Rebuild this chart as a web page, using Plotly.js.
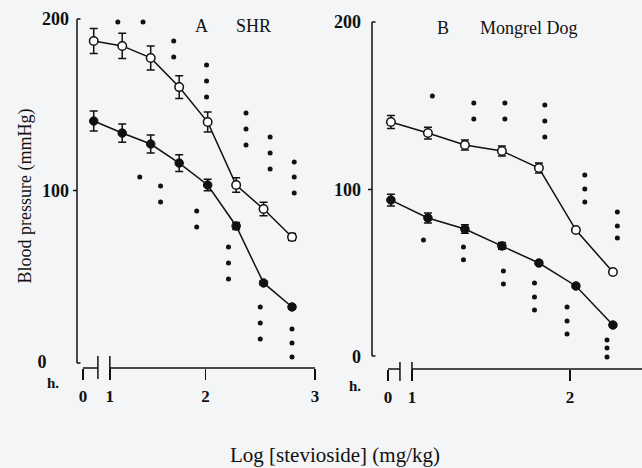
<!DOCTYPE html>
<html>
<head>
<meta charset="utf-8">
<script src="https://cdn.plot.ly/plotly-3.0.1.min.js"></script>
<style>html,body{margin:0;padding:0;background:#f4f5f6;}#chart{width:642px;height:468px;}</style>
</head>
<body>
<div id="chart"></div>
<script>
// ---- Panel A: SHR (log dose positions on the chart's log axis) ----
const shrLogDose = [0.98, 1.24, 1.50, 1.76, 2.02, 2.28, 2.53, 2.79];
const shrSystolic = [187.2, 184.3, 177.3, 160.3, 139.9, 103.2, 89.2, 72.9];
const shrSystolicSE = [7.3, 7.4, 7.0, 6.6, 5.8, 4.2, 3.9, 2.0];
const shrDiastolic = [140.5, 133.5, 127.1, 116.0, 103.2, 79.3, 46.1, 32.1];
const shrDiastolicSE = [5.8, 5.3, 5.3, 4.9, 3.4, 2.0, 1.2, 1.2];
const shrStarX = [1.20, 1.43, 1.71, 1.71, 2.01, 2.01, 2.01, 2.37, 2.37, 2.37, 2.59, 2.59, 2.59, 2.81, 2.81, 2.81,
                  1.40, 1.59, 1.59, 1.92, 1.92, 2.21, 2.21, 2.21, 2.50, 2.50, 2.50, 2.79, 2.79, 2.79];
const shrStarY = [198.3, 198.3, 187.2, 177.8, 173.2, 163.8, 154.5, 145.2, 135.9, 126.5, 131.2, 121.9, 112.5, 116.6, 107.9, 98.5,
                  107.9, 102.6, 93.3, 88.0, 78.7, 67.1, 57.7, 48.4, 32.1, 22.7, 13.4, 19.2, 11.1, 2.9];

// ---- Panel B: Mongrel dog ----
const dogLogDose = [0.79, 1.04, 1.29, 1.54, 1.79, 2.04, 2.29];
const dogSystolic = [140.3, 133.7, 126.6, 123.0, 112.8, 75.8, 50.7];
const dogSystolicSE = [3.9, 3.5, 3.0, 3.0, 3.0, 1.0, 0.5];
const dogDiastolic = [93.7, 83.0, 76.4, 66.3, 56.1, 42.4, 19.1];
const dogDiastolicSE = [3.5, 3.0, 2.5, 2.0, 1.2, 1.0, 1.0];
const dogStarX = [1.07, 1.35, 1.35, 1.56, 1.56, 1.83, 1.83, 1.83, 2.10, 2.10, 2.10, 2.32, 2.32, 2.32,
                  1.01, 1.28, 1.28, 1.55, 1.55, 1.76, 1.76, 1.76, 1.98, 1.98, 1.98, 2.25, 2.25, 2.25];
const dogStarY = [155.8, 151.6, 142.1, 151.6, 142.1, 150.4, 140.9, 131.3, 108.7, 100.3, 92.5, 86.6, 78.2, 71.0,
                  69.9, 65.7, 58.0, 51.3, 43.6, 44.2, 35.8, 28.1, 29.9, 21.5, 13.7, 10.1, 5.4, 0.0];

// ---- Tick labels ----
const yTickVals = [0, 100, 200];
const yTickTextA = ['0\u00a0\u00a0\u00a0\u00a0\u00a0', '100', '200'];
const yTickTextB = ['0', '100', '200'];
const xTickValsA = [0.882, 1.127, 2, 3];
const xTickTextA = ['0', '1', '2', '3'];
const xTickValsB = [0.770, 0.932, 2];
const xTickTextB = ['0', '1', '2'];

const SERIF = 'Liberation Serif, Times New Roman, serif';
const INK = '#111111';

function pair(xa, ya, dose, sys, sysSE, dia, diaSE, sx, sy) {
  const base = {xaxis: xa, yaxis: ya, type: 'scatter', mode: 'lines+markers', cliponaxis: false,
                line: {color: INK, width: 1.5}, showlegend: false};
  return [
    Object.assign({}, base, {name: 'Systolic', x: dose, y: sys,
      error_y: {type: 'data', array: sysSE, visible: true, color: INK, thickness: 1.5, width: 4},
      marker: {symbol: 'circle', size: 8.5, color: '#ffffff', line: {color: INK, width: 1.5}}}),
    Object.assign({}, base, {name: 'Diastolic', x: dose, y: dia,
      error_y: {type: 'data', array: diaSE, visible: true, color: INK, thickness: 1.5, width: 4},
      marker: {symbol: 'circle', size: 8.5, color: INK, line: {color: INK, width: 1}}}),
    {xaxis: xa, yaxis: ya, type: 'scatter', mode: 'markers', name: 'P < 0.05', x: sx, y: sy,
     cliponaxis: false, showlegend: false,
     marker: {symbol: 'circle', size: 5, color: INK}}
  ];
}

const data = [].concat(
  pair('x', 'y', shrLogDose, shrSystolic, shrSystolicSE, shrDiastolic, shrDiastolicSE, shrStarX, shrStarY),
  pair('x2', 'y2', dogLogDose, dogSystolic, dogSystolicSE, dogDiastolic, dogDiastolicSE, dogStarX, dogStarY)
);

const W = 642, H = 468;
const tickFont = {family: SERIF, size: 18, color: INK, weight: 'bold'};
const xTickFont = {family: SERIF, size: 17, color: INK, weight: 'bold'};

function seg(xr, yr, x0, y0, x1, y1) {
  return {type: 'line', xref: xr, yref: yr, x0: x0, y0: y0, x1: x1, y1: y1,
          line: {color: INK, width: 1.5}, layer: 'above'};
}
const fx = (p) => p / W;        // paper fraction from pixel column
const fy = (p) => 1 - p / H;    // paper fraction from pixel row

const aXLine = -3.5, bXLine = -7.16;
const shapes = [
  // Panel A y-axis bracket (paper frame)
  seg('paper', 'paper', fx(77), fy(363), fx(77), fy(19)),
  seg('paper', 'paper', fx(77), fy(19), fx(80.5), fy(19)),
  seg('paper', 'paper', fx(77), fy(363), fx(80.5), fy(363)),
  seg('paper', 'paper', fx(77), fy(190.5), fx(73), fy(190.5)),
  // Panel A broken x axis
  seg('x', 'y', 0.882, aXLine, 1.018, aXLine),
  seg('x', 'y', 1.127, aXLine, 3.0, aXLine),
  seg('x', 'y', 1.018, 3.5, 1.018, -9.9),
  seg('x', 'y', 1.127, 3.5, 1.127, -9.9),
  // Panel B y-axis bracket (paper frame)
  seg('paper', 'paper', fx(372), fy(356), fx(372), fy(22)),
  seg('paper', 'paper', fx(372), fy(22), fx(375.5), fy(22)),
  seg('paper', 'paper', fx(372), fy(356), fx(375.5), fy(356)),
  seg('paper', 'paper', fx(372), fy(189.5), fx(368), fy(189.5)),
  // Panel B broken x axis
  seg('x2', 'y2', 0.770, bXLine, 0.851, bXLine),
  seg('x2', 'y2', 0.932, bXLine, 2.49, bXLine),
  seg('x2', 'y2', 0.851, -3.0, 0.851, -14.3),
  seg('x2', 'y2', 0.932, -3.0, 0.932, -14.3)
];

function ann(text, pxx, py, size, bold) {
  return {text: text, xref: 'paper', yref: 'paper', x: pxx / W, y: 1 - py / H,
    xanchor: 'center', yanchor: 'middle', showarrow: false,
    font: {family: SERIF, size: size, color: INK, weight: bold ? 'bold' : 'normal'}};
}

const annotations = [
  ann('A', 201, 26, 18, false),
  ann('SHR', 253, 26, 18, false),
  ann('B', 443, 28, 18, false),
  ann('Mongrel Dog', 529, 28, 18, false),
  ann('h.', 53, 383, 15, true),
  ann('h.', 355, 386, 15, true),
  ann('Log [stevioside] (mg/kg)', 335, 455, 21, false)
];

const yDomain = [1 - 382 / H, 1 - 10 / H];

const layout = {
  width: W, height: H,
  margin: {l: 0, r: 0, t: 0, b: 0, pad: 0},
  paper_bgcolor: '#f4f5f6', plot_bgcolor: 'rgba(0,0,0,0)',
  showlegend: false,
  xaxis: {domain: [77 / W, 322 / W], range: [0.82727, 3.0636], anchor: 'free', position: 1 - 368 / H,
          showline: false, showgrid: false, zeroline: false,
          ticks: 'outside', ticklen: 11, tickwidth: 1.5, tickcolor: INK,
          tickmode: 'array', tickvals: xTickValsA, ticktext: xTickTextA, tickfont: xTickFont, ticklabelstandoff: 2},
  yaxis: {domain: yDomain, range: [-11.662, 205.248], anchor: 'x',
          showline: false, showgrid: false, zeroline: false, ticks: '',
          tickmode: 'array', tickvals: yTickVals, ticktext: yTickTextA, tickfont: tickFont, ticklabelstandoff: 7,
          title: {text: 'Blood pressure (mmHg)', font: {family: SERIF, size: 18, color: INK}, standoff: 1}},
  xaxis2: {domain: [372 / W, 1], range: [0.66216, 2.4865], anchor: 'free', position: 1 - 369 / H,
           showline: false, showgrid: false, zeroline: false,
           ticks: 'outside', ticklen: 11, tickwidth: 1.5, tickcolor: INK,
           tickmode: 'array', tickvals: xTickValsB, ticktext: xTickTextB, tickfont: xTickFont, ticklabelstandoff: 2},
  yaxis2: {domain: yDomain, range: [-14.925, 207.164], anchor: 'x2',
           showline: false, showgrid: false, zeroline: false, ticks: '',
           tickmode: 'array', tickvals: yTickVals, ticktext: yTickTextB, tickfont: tickFont, ticklabelstandoff: 10},
  shapes: shapes,
  annotations: annotations
};

Plotly.newPlot('chart', data, layout, {displayModeBar: false, staticPlot: true});
</script>
</body>
</html>
